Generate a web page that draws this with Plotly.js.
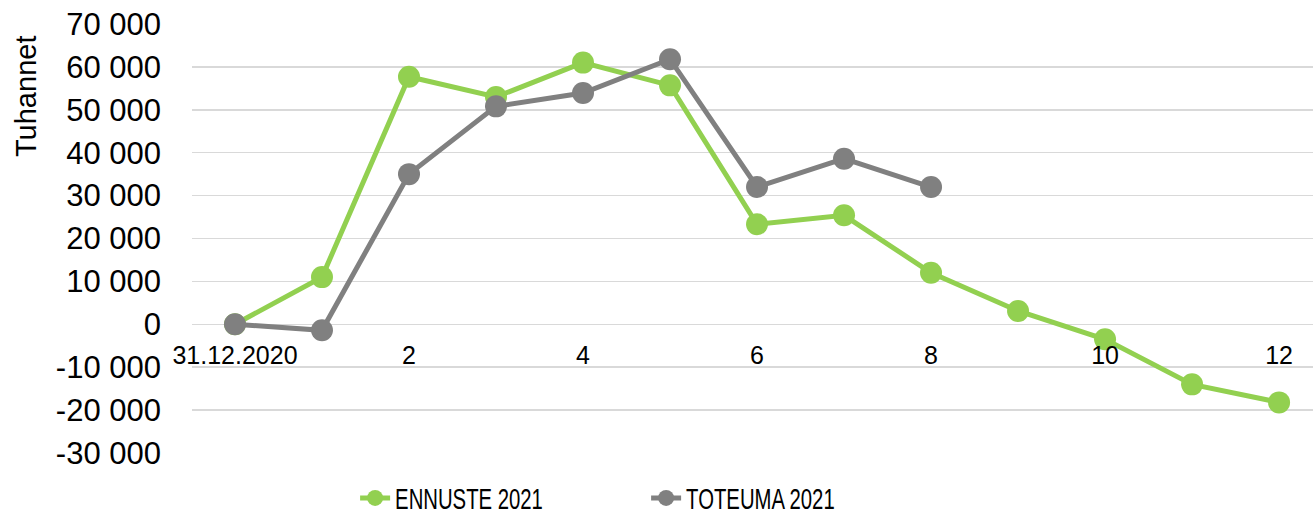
<!DOCTYPE html>
<html>
<head>
<meta charset="utf-8">
<script src="https://cdn.plot.ly/plotly-3.0.1.min.js"></script>
<style>
  html, body { margin: 0; padding: 0; background: #ffffff; }
  #chart { width: 1313px; height: 516px; }
</style>
</head>
<body>
<div id="chart"></div>
<script>
// Categories (months, starting from 31.12.2020)
var categories = ["31.12.2020", "1", "2", "3", "4", "5", "6", "7", "8", "9", "10", "11", "12"];

// Series values (Tuhannet)
var ennuste2021 = [0, 11000, 57700, 53000, 61000, 55700, 23300, 25400, 12000, 3100, -3500, -14000, -18200];
var toteuma2021 = [0, -1400, 35000, 50800, 53900, 61800, 32000, 38600, 32000];
var toteumaCategories = categories.slice(0, toteuma2021.length);

// Series names
var seriesNames = ["ENNUSTE 2021", "TOTEUMA 2021"];

// Tick labels
var xTickVals = ["31.12.2020", "2", "4", "6", "8", "10", "12"];
var xTickText = ["31.12.2020", "2", "4", "6", "8", "10", "12"];
var yTickVals = [-30000, -20000, -10000, 0, 10000, 20000, 30000, 40000, 50000, 60000, 70000];
var yTickText = ["-30 000", "-20 000", "-10 000", "0", "10 000", "20 000", "30 000", "40 000", "50 000", "60 000", "70 000"];

var green = "#92D050";
var gray = "#808080";
var gridColor = "#D9D9D9";

var traces = [
  {
    x: categories,
    y: ennuste2021,
    name: seriesNames[0],
    type: "scatter",
    mode: "lines+markers",
    line: { color: green, width: 5 },
    marker: { color: green, size: 22 },
    cliponaxis: false
  },
  {
    x: toteumaCategories,
    y: toteuma2021,
    name: seriesNames[1],
    type: "scatter",
    mode: "lines+markers",
    line: { color: gray, width: 5 },
    marker: { color: gray, size: 22 },
    cliponaxis: false
  }
];

var layout = {
  width: 1313,
  height: 516,
  margin: { l: 192, r: 0, t: 24, b: 63, pad: 0, autoexpand: false },
  paper_bgcolor: "#ffffff",
  plot_bgcolor: "#ffffff",
  font: { family: "Liberation Sans, Arial, sans-serif", color: "#000000" },
  showlegend: true,
  xaxis: {
    type: "category",
    range: [-0.494, 12.39],
    anchor: "free",
    position: 0.3,
    showgrid: false,
    zeroline: false,
    showline: false,
    ticks: "",
    tickmode: "array",
    tickvals: xTickVals,
    ticktext: xTickText,
    tickfont: { size: 25, color: "#000000", family: "Liberation Sans, Arial, sans-serif" },
    ticklabelstandoff: 14,
    fixedrange: true
  },
  yaxis: {
    range: [-30000, 70000],
    domain: [0, 1],
    showgrid: true,
    gridcolor: gridColor,
    gridwidth: 1.5,
    zeroline: true,
    zerolinecolor: gridColor,
    zerolinewidth: 1.5,
    showline: false,
    ticks: "",
    tickmode: "array",
    tickvals: yTickVals,
    ticktext: yTickText,
    tickfont: { size: 31, color: "#000000", family: "Liberation Sans, Arial, sans-serif" },
    ticklabelstandoff: 30,
    fixedrange: true
  },
  legend: {
    orientation: "h",
    x: 0.1455,
    xanchor: "left",
    y: -0.105,
    yanchor: "middle",
    font: { size: 29, color: "#000000", family: "Liberation Sans, Arial, sans-serif" },
    entrywidth: 246,
    entrywidthmode: "pixels",
    tracegroupgap: 0,
    bgcolor: "rgba(0,0,0,0)"
  },
  annotations: [
    {
      text: "Tuhannet",
      xref: "paper",
      yref: "paper",
      x: -0.148,
      y: 0.83,
      xanchor: "center",
      yanchor: "middle",
      textangle: -90,
      showarrow: false,
      font: { size: 29, color: "#000000", family: "Liberation Sans, Arial, sans-serif" }
    }
  ]
};

Plotly.newPlot("chart", traces, layout, { displayModeBar: false, staticPlot: true }).then(function (gd) {
  // Condense the legend text to mimic the narrow legend font
  var texts = gd.querySelectorAll(".legendtext");
  texts.forEach(function (t) {
    var w = t.getComputedTextLength();
    t.setAttribute("textLength", (w * 0.7).toFixed(1));
    t.setAttribute("lengthAdjust", "spacingAndGlyphs");
  });
});
</script>
</body>
</html>
